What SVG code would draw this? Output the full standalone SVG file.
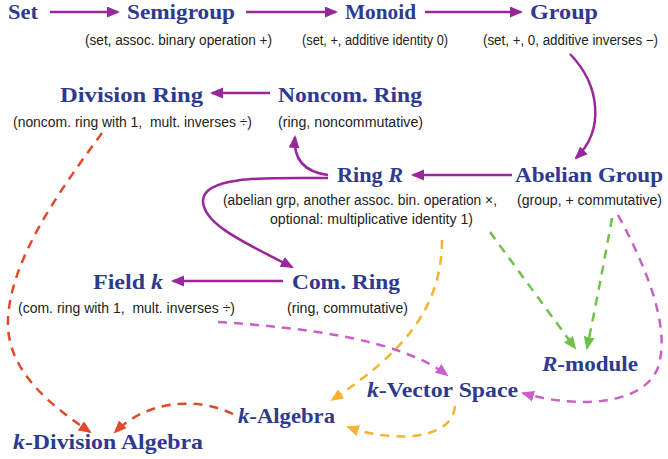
<svg xmlns="http://www.w3.org/2000/svg" width="668" height="459" viewBox="0 0 668 459">
<style>
.t{font-family:"Liberation Serif","DejaVu Serif",serif;font-weight:bold;font-size:21px;fill:#2d3a8f}
.s{font-family:"Liberation Sans","DejaVu Sans",sans-serif;font-size:14px;fill:#222}
.so{fill:none;stroke:#98279b;stroke-width:2.5}
.d{fill:none;stroke-width:2.5;stroke-dasharray:9 7}
.r{stroke:#e0492a}.y{stroke:#f4b330}.g{stroke:#6ec24a}.m{stroke:#c860c8}
</style>
<defs>
<marker id="ap" markerUnits="userSpaceOnUse" markerWidth="14" markerHeight="12" refX="11" refY="5.5" orient="auto"><path d="M0,0 L13,5.5 L0,11 z" fill="#98279b"/></marker>
<marker id="ar" markerUnits="userSpaceOnUse" markerWidth="14" markerHeight="12" refX="11" refY="5.5" orient="auto"><path d="M0,0 L13,5.5 L0,11 z" fill="#e0492a"/></marker>
<marker id="ay" markerUnits="userSpaceOnUse" markerWidth="14" markerHeight="12" refX="11" refY="5.5" orient="auto"><path d="M0,0 L13,5.5 L0,11 z" fill="#f4b330"/></marker>
<marker id="ag" markerUnits="userSpaceOnUse" markerWidth="14" markerHeight="12" refX="11" refY="5.5" orient="auto"><path d="M0,0 L13,5.5 L0,11 z" fill="#6ec24a"/></marker>
<marker id="am" markerUnits="userSpaceOnUse" markerWidth="14" markerHeight="12" refX="11" refY="5.5" orient="auto"><path d="M0,0 L13,5.5 L0,11 z" fill="#c860c8"/></marker>
</defs>
<rect width="668" height="459" fill="#fff"/>
<g id="connectors">
<path class="so" marker-end="url(#ap)" d="M50,12 L118,12"/>
<path class="so" marker-end="url(#ap)" d="M246,12 L336,12"/>
<path class="so" marker-end="url(#ap)" d="M425,12 L521,12"/>
<path class="so" marker-end="url(#ap)" d="M570,54 C600,85 605,130 576,158"/>
<path class="so" marker-end="url(#ap)" d="M512,175 L413,175"/>
<path class="so" marker-end="url(#ap)" d="M270,93 L212,93"/>
<path class="so" marker-end="url(#ap)" d="M328,175 C305,172 293,160 295,137"/>
<path class="so" marker-end="url(#ap)" d="M328,178 C270,178 205,175 203,200 C202,225 250,245 292,267"/>
<path class="so" marker-end="url(#ap)" d="M283,281 L173,281"/>
<path class="d r" marker-end="url(#ar)" d="M102,133 C60,190 10,260 8,320 C6,370 50,405 90,432"/>
<path class="d r" marker-end="url(#ar)" d="M233,414 C200,398 150,398 115,432"/>
<path class="d y" marker-end="url(#ay)" d="M442,240 C442,310 400,355 332,400"/>
<path class="d y" marker-end="url(#ay)" d="M455,406 C452,442 390,442 348,427"/>
<path class="d g" marker-end="url(#ag)" d="M490,232 L575,348"/>
<path class="d g" marker-end="url(#ag)" d="M612,218 Q600,285 587,348"/>
<path class="d m" marker-end="url(#am)" d="M618,215 C645,265 668,320 660,360 C652,405 580,410 523,393"/>
<path class="d m" marker-end="url(#am)" d="M218,322 C310,328 400,340 447,375"/>
</g>
<g id="set"><text class="t" x="8" y="19" textLength="30" lengthAdjust="spacingAndGlyphs">Set</text></g>
<g id="semigroup"><text class="t" x="127" y="19" textLength="108" lengthAdjust="spacingAndGlyphs">Semigroup</text>
<text class="s" x="85" y="45" textLength="187" lengthAdjust="spacingAndGlyphs">(set, assoc. binary operation +)</text></g>
<g id="monoid"><text class="t" x="345" y="19" textLength="71" lengthAdjust="spacingAndGlyphs">Monoid</text>
<text class="s" x="302" y="45" textLength="146" lengthAdjust="spacingAndGlyphs">(set, +, additive identity 0)</text></g>
<g id="group"><text class="t" x="530" y="19" textLength="68" lengthAdjust="spacingAndGlyphs">Group</text>
<text class="s" x="483" y="45" textLength="175" lengthAdjust="spacingAndGlyphs">(set, +, 0, additive inverses −)</text></g>
<g id="division-ring"><text class="t" x="60" y="102" textLength="143" lengthAdjust="spacingAndGlyphs">Division Ring</text>
<text class="s" x="13" y="127" textLength="239" lengthAdjust="spacingAndGlyphs" xml:space="preserve">(noncom. ring with 1,  mult. inverses ÷)</text></g>
<g id="noncom-ring"><text class="t" x="278" y="102" textLength="144" lengthAdjust="spacingAndGlyphs">Noncom. Ring</text>
<text class="s" x="278" y="127" textLength="145" lengthAdjust="spacingAndGlyphs">(ring, noncommutative)</text></g>
<g id="ring-r"><text class="t" x="337" y="182" textLength="66" lengthAdjust="spacingAndGlyphs">Ring <tspan font-style="italic">R</tspan></text>
<text class="s" x="223" y="205" textLength="274" lengthAdjust="spacingAndGlyphs">(abelian grp, another assoc. bin. operation ×,</text>
<text class="s" x="270" y="224" textLength="203" lengthAdjust="spacingAndGlyphs">optional: multiplicative identity 1)</text></g>
<g id="abelian-group"><text class="t" x="515" y="182" textLength="148" lengthAdjust="spacingAndGlyphs">Abelian Group</text>
<text class="s" x="517" y="205" textLength="145" lengthAdjust="spacingAndGlyphs">(group, + commutative)</text></g>
<g id="field-k"><text class="t" x="93" y="289" textLength="70" lengthAdjust="spacingAndGlyphs">Field <tspan font-style="italic">k</tspan></text>
<text class="s" x="18" y="313" textLength="217" lengthAdjust="spacingAndGlyphs" xml:space="preserve">(com. ring with 1,  mult. inverses ÷)</text></g>
<g id="com-ring"><text class="t" x="292" y="289" textLength="108" lengthAdjust="spacingAndGlyphs">Com. Ring</text>
<text class="s" x="287" y="313" textLength="121" lengthAdjust="spacingAndGlyphs">(ring, commutative)</text></g>
<g id="r-module"><text class="t" x="542" y="371" textLength="96" lengthAdjust="spacingAndGlyphs"><tspan font-style="italic">R</tspan>-module</text></g>
<g id="k-vector-space"><text class="t" x="367" y="397" textLength="151" lengthAdjust="spacingAndGlyphs"><tspan font-style="italic">k</tspan>-Vector Space</text></g>
<g id="k-algebra"><text class="t" x="238" y="423" textLength="97" lengthAdjust="spacingAndGlyphs"><tspan font-style="italic">k</tspan>-Algebra</text></g>
<g id="k-division-algebra"><text class="t" x="13" y="449" textLength="190" lengthAdjust="spacingAndGlyphs"><tspan font-style="italic">k</tspan>-Division Algebra</text></g>
</svg>
